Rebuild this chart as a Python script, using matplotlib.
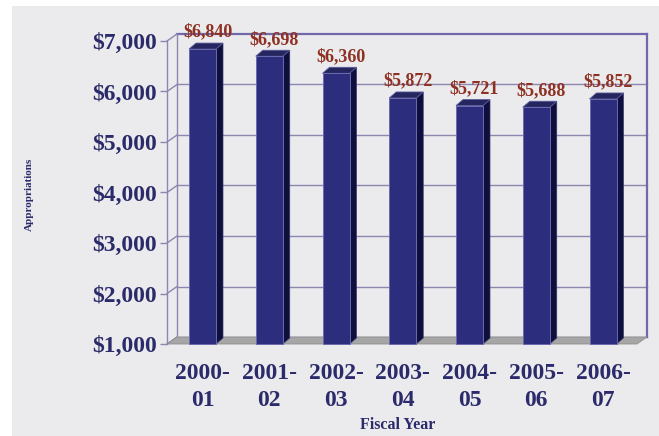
import matplotlib
matplotlib.use('Agg')
import matplotlib.pyplot as plt
from matplotlib.patches import Polygon, Rectangle
import numpy as np

# data (millions)
years = ["2000-\n01", "2001-\n02", "2002-\n03", "2003-\n04", "2004-\n05", "2005-\n06", "2006-\n07"]
appropriations = [6840, 6698, 6360, 5872, 5721, 5688, 5852]
y_ticks = [1000, 2000, 3000, 4000, 5000, 6000, 7000]

bg = '#ebebed'
navy = '#2b2b6b'
red = '#8e3123'
grid_c = '#8c86b0'
wall_c = '#7068aa'
front_c = '#2c2d7c'
side_c = '#0f0f3d'
top_c = '#25255f'
floor_c = '#a6a6a6'

plt.rcParams['font.family'] = ['Liberation Serif', 'DejaVu Serif']
plt.rcParams['font.weight'] = 'bold'

W, H = 659, 436
fig = plt.figure(figsize=(W / 100, H / 100), dpi=100)
fig.patch.set_facecolor('white')
fig.patches.append(Rectangle((12 / W, 0), 1, 1 - 6 / H, transform=fig.transFigure,
                             facecolor=bg, edgecolor='none', zorder=-10))

# front plane in pixels
FX0, FX1 = 167, 637
FY_TOP, FY_BOT = 41, 344
BAR0, STEP = 202.5, 66.75

ax = fig.add_axes([FX0 / W, 1 - FY_BOT / H, (FX1 - FX0) / W, (FY_BOT - FY_TOP) / H])
ax.set_facecolor('none')
xmin = (FX0 - BAR0) / STEP
xmax = (FX1 - BAR0) / STEP
ax.set_xlim(xmin, xmax)
ax.set_ylim(y_ticks[0], y_ticks[-1])
ux = 1 / STEP
uy = (y_ticks[-1] - y_ticks[0]) / (FY_BOT - FY_TOP)

# wall depth and bar depth (px -> data)
wdx, wdy = 10 * ux, 7 * uy
bdx, bdy = 7 * ux, 6 * uy
base = y_ticks[0]

# back wall + side wall grid
for v in y_ticks:
    lw = 1.6 if v == y_ticks[-1] else 1.0
    c = wall_c if v == y_ticks[-1] else grid_c
    ax.plot([xmin + wdx, xmax + wdx], [v + wdy, v + wdy], color=c, lw=lw, clip_on=False, zorder=1)
    ax.plot([xmin, xmin + wdx], [v, v + wdy], color=grid_c, lw=1.0, clip_on=False, zorder=1)
ax.plot([xmax + wdx, xmax + wdx], [base + wdy, y_ticks[-1] + wdy], color=wall_c, lw=1.6, clip_on=False, zorder=1)
ax.plot([xmin + wdx, xmin + wdx], [base + wdy, y_ticks[-1] + wdy], color=grid_c, lw=1.0, clip_on=False, zorder=1)
ax.plot([xmin, xmin], [base, y_ticks[-1]], color=grid_c, lw=1.0, clip_on=False, zorder=1)

# floor
ax.add_patch(Polygon([(xmin, base), (xmax, base), (xmax + wdx, base + wdy), (xmin + wdx, base + wdy)],
                     closed=True, facecolor=floor_c, edgecolor='#8e8e8e', lw=0.6, clip_on=False, zorder=2))

# bars
bw = 27 / STEP
for i, v in enumerate(appropriations):
    x0, x1 = i - bw / 2, i + bw / 2
    ax.add_patch(Polygon([(x1, base), (x1 + bdx, base + bdy), (x1 + bdx, v + bdy), (x1, v)],
                         closed=True, facecolor=side_c, edgecolor='#3a3a70', lw=0.5, clip_on=False, zorder=3))
    ax.add_patch(Polygon([(x0, v), (x1, v), (x1 + bdx, v + bdy), (x0 + bdx, v + bdy)],
                         closed=True, facecolor=top_c, edgecolor='#5a5a9a', lw=0.6, clip_on=False, zorder=3))
    ax.bar(i, v - base, bottom=base, width=bw, color=front_c, edgecolor='#6a6aae', lw=0.7, zorder=4, clip_on=False)
    ax.annotate(f"${v:,}", xy=(i, v), xytext=(5, 17), textcoords='offset pixels',
                ha='center', va='center', fontsize=13, color=red, fontweight='bold', zorder=6)

for s in ax.spines.values():
    s.set_visible(False)
ax.set_yticks(y_ticks)
ax.set_yticklabels([f"${v:,}" for v in y_ticks])
ax.set_xticks(range(len(years)))
ax.set_xticklabels(years, linespacing=1.35)
ax.tick_params(axis='y', length=5, width=1, color=grid_c, pad=2, labelsize=17, labelcolor=navy)
ax.tick_params(axis='x', length=0, pad=14, labelsize=17, labelcolor=navy)

fig.text(398 / W, 1 - 425 / H, 'Fiscal Year', ha='center', va='center', fontsize=11.5, color=navy, fontweight='bold')
fig.text(29 / W, 1 - 194 / H, 'Appropriations', ha='center', va='center', rotation=90,
         fontsize=8, color=navy, fontweight='bold')

fig.savefig('out.png', dpi=100, facecolor=fig.get_facecolor())
